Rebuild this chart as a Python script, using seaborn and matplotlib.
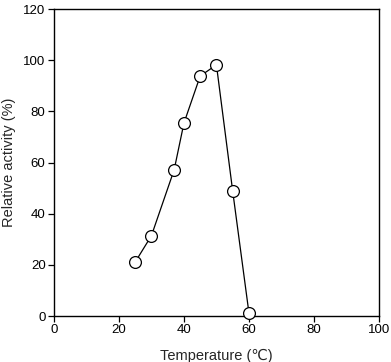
import matplotlib
matplotlib.use("Agg")
import matplotlib.pyplot as plt
import seaborn as sns
import pandas as pd

# ---- Data ----
temperature = [25, 30, 37, 40, 45, 50, 55, 60]
activity = [21.1, 31.4, 57.2, 75.4, 93.8, 98.2, 48.9, 1.3]

x_ticks = [0, 20, 40, 60, 80, 100]
y_ticks = [0, 20, 40, 60, 80, 100, 120]

df = pd.DataFrame({"temperature": temperature, "activity": activity})

sns.set_style("white")
plt.rcParams["font.family"] = ["Liberation Sans", "DejaVu Sans"]

fig = plt.figure(figsize=(3.91, 3.62), dpi=100)
ax = fig.add_axes([0.138, 0.127, 0.831, 0.848])

sns.lineplot(data=df, x="temperature", y="activity", ax=ax, color="black",
             linewidth=0.9, marker="o", markersize=8.5, markerfacecolor="white",
             markeredgecolor="black", markeredgewidth=0.9, zorder=3, clip_on=False)

ax.set_xlim(0, 100)
ax.set_ylim(0, 120)
ax.set_xticks(x_ticks)
ax.set_yticks(y_ticks)
ax.tick_params(axis="both", direction="out", length=4, width=0.9, labelsize=9.5,
               colors="black", bottom=True, left=True, top=False, right=False,
               pad=2)
for s in ax.spines.values():
    s.set_color("black")
    s.set_linewidth(1.0)

ax.set_xlabel("Temperature (\u2103)", fontsize=10.5, labelpad=9)
ax.set_ylabel("Relative activity (%)", fontsize=10.5, labelpad=5)

fig.savefig("out.png", dpi=100)
